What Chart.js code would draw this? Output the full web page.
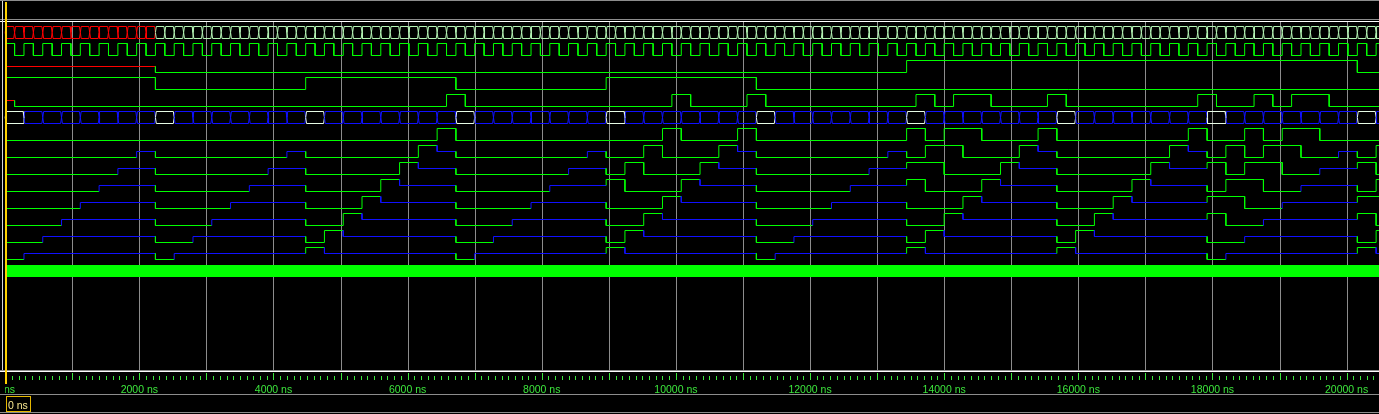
<!DOCTYPE html>
<html>
<head>
<meta charset="utf-8">
<script src="https://cdn.jsdelivr.net/npm/chart.js@4/dist/chart.umd.min.js"></script>
<style>
html,body{margin:0;padding:0;background:#000;overflow:hidden}
canvas{display:block}
</style>
</head>
<body>
<canvas id="wave" width="1379" height="414"></canvas>
<script>
// ================= DATA =================
// All edge times are in clock periods (1 period = 280 ns).
const PERIOD_NS = 280;

// time ruler
const rulerLabelsNs = [0, 2000, 4000, 6000, 8000, 10000, 12000, 14000, 16000, 18000, 20000];
const gridNs = [1000, 2000, 3000, 4000, 5000, 6000, 7000, 8000, 9000, 10000,
                11000, 12000, 13000, 14000, 15000, 16000, 17000, 18000, 19000, 20000];
const cursorNs = 0;

// row 1: bus, one value per half period ('X' unknown, 'V' valid)
const busAStateRuns = [['X', 16], ['V', 131]];

// row 2: clock level per half period
const clkLevels = [
  1,0,1,0,1,0,1,0,1,0,1,0,1,0,1,0,1,0,1,0,
  1,0,1,0,1,0,1,0,1,0,1,0,1,0,1,0,1,0,1,0,
  1,0,1,0,1,0,1,0,1,0,1,0,1,0,1,0,1,0,1,0,
  1,0,1,0,1,0,1,0,1,0,1,0,1,0,1,0,1,0,1,0,
  1,0,1,0,1,0,1,0,1,0,1,0,1,0,1,0,1,0,1,0,
  1,0,1,0,1,0,1,0,1,0,1,0,1,0,1,0,1,0,1,0,
  1,0,1,0,1,0,1,0,1,0,1,0,1,0,1,0,1,0,1,0,
  1,0,1,0,1,0,1
];

// rows 3,4,5,7..14: [edge time (periods), new value]
const sig3 = [[0,'X'],[8,0],[48,1],[72,0]];
const sig4 = [[0,1],[8,0],[16,1],[24,0],[32,1],[40,0]];
const sig5 = [[0,'X'],[0.5,0],[23.5,1],[24.5,0],[35.5,1],[36.5,0],[39.5,1],[40.5,0],[48.5,1],[49.5,0],
              [50.5,1],[52.5,0],[55.5,1],[56.5,0],[63.5,1],[64.5,0],[66.5,1],[67.5,0],[68.5,1],[70.5,0]];

// row 6: bus, one value per period ('V' valid, 'Z' high impedance)
const busBStateRuns = [['V',1],['Z',7],['V',1],['Z',7],['V',1],['Z',7],['V',1],['Z',7],['V',1],['Z',7],
                       ['V',1],['Z',7],['V',1],['Z',7],['V',1],['Z',7],['V',1],['Z',7],['V',1],['Z',1]];

const sig7 = [[0,0],[23,1],[24,0],[35,1],[36,0],[39,1],[40,0],[48,1],[49,0],[50,1],[52,0],
              [55,1],[56,0],[63,1],[64,0],[66,1],[67,0],[68,1],[70,0]];
const sig8 = [[0,0],[7,'Z'],[8,0],[15,'Z'],[16,0],[22,1],[23,'Z'],[24,0],[31,'Z'],[32,0],[34,1],[35,0],
              [38,1],[39,'Z'],[40,0],[47,'Z'],[48,0],[49,1],[51,0],[54,1],[55,'Z'],[56,0],[62,1],[63,'Z'],
              [64,0],[65,1],[66,0],[67,1],[69,0],[71,'Z'],[72,0],[73,1]];
const sig9 = [[0,0],[6,'Z'],[8,0],[14,'Z'],[16,0],[21,1],[22,'Z'],[24,0],[30,'Z'],[32,0],[33,1],[34,0],
              [37,1],[38,'Z'],[40,0],[46,'Z'],[48,1],[50,0],[53,1],[54,'Z'],[56,0],[61,1],[62,'Z'],
              [64,1],[65,0],[66,1],[68,0],[70,'Z'],[72,1],[73,0]];
const sig10 = [[0,0],[5,'Z'],[8,0],[13,'Z'],[16,0],[20,1],[21,'Z'],[24,0],[29,'Z'],[32,1],[33,0],[36,1],
               [37,'Z'],[40,0],[45,'Z'],[48,1],[49,0],[52,1],[53,'Z'],[56,0],[60,1],[61,'Z'],[64,0],
               [65,1],[67,0],[69,'Z'],[72,0],[73,1]];
const sig11 = [[0,0],[4,'Z'],[8,0],[12,'Z'],[16,0],[19,1],[20,'Z'],[24,0],[28,'Z'],[32,0],[35,1],[36,'Z'],
               [40,0],[44,'Z'],[48,0],[51,1],[52,'Z'],[56,0],[59,1],[60,'Z'],[64,1],[66,0],[68,'Z'],[72,1]];
const sig12 = [[0,0],[3,'Z'],[8,0],[11,'Z'],[16,0],[18,1],[19,'Z'],[24,0],[27,'Z'],[32,0],[34,1],[35,'Z'],
               [40,0],[43,'Z'],[48,0],[50,1],[51,'Z'],[56,0],[58,1],[59,'Z'],[64,1],[65,0],[67,'Z'],
               [72,1],[73,0]];
const sig13 = [[0,0],[2,'Z'],[8,0],[10,'Z'],[16,0],[17,1],[18,'Z'],[24,0],[26,'Z'],[32,0],[33,1],[34,'Z'],
               [40,0],[42,'Z'],[48,0],[49,1],[50,'Z'],[56,0],[57,1],[58,'Z'],[64,0],[66,'Z'],[72,0],[73,1]];
const sig14 = [[0,0],[1,'Z'],[8,0],[9,'Z'],[16,1],[17,'Z'],[24,0],[25,'Z'],[32,1],[33,'Z'],[40,0],[41,'Z'],
               [48,1],[49,'Z'],[56,1],[57,'Z'],[64,0],[65,'Z'],[72,1],[73,'Z']];

// row 15: bus switching too fast to resolve (drawn solid)
const denseBusSpan = [0, 74];

// ================= LAYOUT / STYLE =================
const W = 1379, H = 414;
const X_MIN = -77.5, X_MAX = 20483;         // visible time window, ns
const ROW_PX = 17, SWING_PX = 6, FIRST_ROW_PX = 32.5;
const Y_MIN = -FIRST_ROW_PX / ROW_PX, Y_MAX = Y_MIN + H / ROW_PX;
const SLANT_NS = 13;

const COL = {
  0: '#00ff00', 1: '#00ff00', Z: '#1010ff', X: '#ff0000',
  busValidA: '#b4f4b4', busValidB: '#e6fae6',
  grid: '#8c8c8c', rule: '#8c8c8c', white: '#ffffff',
  ruler: '#3ce63c', cursor: '#ffd200', boxText: '#f8e890'
};

const T = c => c * PERIOD_NS;
const lvl = (row, v) => v === 1 ? row - SWING_PX / ROW_PX : (v === 0 ? row + SWING_PX / ROW_PX : row);

function lineDs(points, states, colorOf, width) {
  return {
    data: points,
    borderWidth: width || 1,
    borderColor: colorOf(states[0]),
    segment: { borderColor: ctx => colorOf(states[ctx.p1DataIndex]) },
    pointRadius: 0, tension: 0, fill: false, spanGaps: true
  };
}

function digital(row, events) {
  const pts = [], st = [];
  let prev = null;
  events.forEach(([c, v]) => {
    const x = T(c);
    if (prev !== null) { pts.push({x, y: lvl(row, prev)}); st.push(prev); }
    pts.push({x, y: lvl(row, v)}); st.push(v);
    prev = v;
  });
  pts.push({x: X_MAX + 60, y: lvl(row, prev)}); st.push(prev);
  return lineDs(pts, st, s => COL[s]);
}

function runsToSegs(runs, unit) {
  const segs = []; let k = 0;
  runs.forEach(([s, n]) => { for (let i = 0; i < n; i++) { segs.push([k * unit, (k + 1) * unit, s]); k++; } });
  return segs;
}

function bus(row, segs, validColor) {
  const hi = lvl(row, 1), lo = lvl(row, 0), mid = row;
  const top = [], bot = [], st = [];
  segs.forEach(([a, b, s]) => {
    const xa = T(a), xb = T(b);
    top.push({x: xa, y: mid}, {x: xa + SLANT_NS, y: hi}, {x: xb - SLANT_NS, y: hi}, {x: xb, y: mid});
    bot.push({x: xa, y: mid}, {x: xa + SLANT_NS, y: lo}, {x: xb - SLANT_NS, y: lo}, {x: xb, y: mid});
    st.push(s, s, s, s);
  });
  const colorOf = s => s === 'V' ? validColor : COL[s];
  return [lineDs(top, st, colorOf), lineDs(bot, st, colorOf)];
}

// ================= BUILD =================
const datasets = [];
datasets.push(...bus(0, runsToSegs(busAStateRuns, 0.5), COL.busValidA));
datasets.push(digital(1, clkLevels.map((v, k) => [k * 0.5, v])));
datasets.push(digital(2, sig3));
datasets.push(digital(3, sig4));
datasets.push(digital(4, sig5));
datasets.push(...bus(5, runsToSegs(busBStateRuns, 1), COL.busValidB));
[sig7, sig8, sig9, sig10, sig11, sig12, sig13, sig14].forEach((s, i) => datasets.push(digital(6 + i, s)));
datasets.push(lineDs(
  [{x: T(denseBusSpan[0]), y: 14 + 0.5 / ROW_PX}, {x: T(denseBusSpan[1]), y: 14 + 0.5 / ROW_PX}],
  [0, 0], () => COL[0], 12));

const chrome = {
  id: 'chrome',
  beforeDraw(chart) {
    const g = chart.ctx, xs = chart.scales.x;
    g.save();
    g.fillStyle = '#000'; g.fillRect(0, 0, W, H);
    const hr = (y, c) => { g.fillStyle = c; g.fillRect(0, y, W, 1); };
    hr(0, COL.rule); hr(19, COL.rule); hr(21, COL.white);
    hr(370, COL.rule); hr(371, COL.white); hr(394, COL.rule); hr(412, COL.rule);
    g.fillStyle = '#d8d8d8'; g.fillRect(2, 1, 1, 369);
    g.fillStyle = COL.grid;
    gridNs.forEach(t => g.fillRect(Math.round(xs.getPixelForValue(t)), 22, 1, 348));
    g.restore();
  },
  afterDraw(chart) {
    const g = chart.ctx, xs = chart.scales.x;
    g.save();
    // ruler ticks
    g.fillStyle = COL.ruler;
    for (let t = 0; t <= X_MAX; t += 100) {
      const px = Math.round(xs.getPixelForValue(t));
      if (t % 1000 === 0) g.fillRect(px, 373, 1, 7); else g.fillRect(px, 376, 1, 4);
    }
    // ruler labels
    g.save();
    g.beginPath(); g.rect(5, 380, W - 5, 14); g.clip();
    g.font = '10.5px "Liberation Sans", Arial, sans-serif';
    g.textAlign = 'center'; g.textBaseline = 'alphabetic';
    rulerLabelsNs.forEach(t => g.fillText(t + ' ns', xs.getPixelForValue(t), 393));
    g.restore();
    // cursor
    const cx = Math.floor(xs.getPixelForValue(cursorNs));
    g.fillStyle = COL.cursor; g.fillRect(cx, 2, 2, 382);
    // cursor readout box
    g.strokeStyle = '#e6b800'; g.lineWidth = 1;
    g.strokeRect(cx + 1.5, 396.5, 24, 15);
    g.fillStyle = COL.boxText;
    g.font = '10.5px "Liberation Sans", Arial, sans-serif';
    g.textAlign = 'left';
    g.fillText(cursorNs + ' ns', cx + 3, 408.5);
    g.restore();
  }
};

new Chart(document.getElementById('wave'), {
  type: 'line',
  data: { datasets },
  options: {
    responsive: false, animation: false, devicePixelRatio: 1, events: [],
    layout: { padding: 0 },
    scales: {
      x: { type: 'linear', min: X_MIN, max: X_MAX, display: false },
      y: { type: 'linear', min: Y_MIN, max: Y_MAX, reverse: true, display: false }
    },
    plugins: { legend: { display: false }, tooltip: { enabled: false } }
  },
  plugins: [chrome]
});
</script>
</body>
</html>
